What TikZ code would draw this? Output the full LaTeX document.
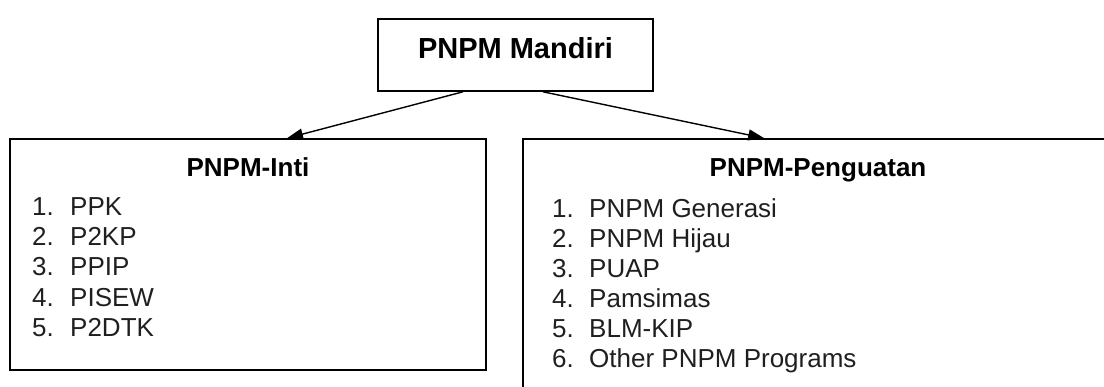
\documentclass[tikz,border=0pt]{standalone}
\usepackage{fontspec}
\setmainfont{Liberation Sans}
\usetikzlibrary{arrows.meta,calc}
\begin{document}
\begin{tikzpicture}[x=1pt,y=-1pt,
  box/.style={draw, line width=1.6pt, inner sep=0pt},
  conn/.style={line width=1.4pt, -{Triangle[length=16pt,width=11pt]}},
  ttl/.style={font=\fontsize{26}{30}\selectfont\bfseries, anchor=base, inner sep=0pt},
  item/.style={font=\fontsize{26}{30}\selectfont, anchor=base west, inner sep=0pt, text=black!88}]
\useasboundingbox (0,0) rectangle (1104,386);
\clip (0,0) rectangle (1104,386);
\node[box, minimum width=275pt, minimum height=72pt] (top) at (515.5,55) {};
\node[font=\fontsize{29}{33}\selectfont\bfseries, anchor=base, inner sep=0pt] (toptext) at (515.5,58) {PNPM Mandiri};
\node[box, minimum width=476pt, minimum height=231pt] (inti) at (248,254.5) {};
\node[box, minimum width=607pt, minimum height=271pt] (peng) at (826.5,274.5) {};
\draw[conn] ($(top.south)+(-52.5,0)$) -- ($(inti.north)+(39,0)$);
\draw[conn] ($(top.south)+(27.5,0)$) -- ($(peng.north west)+(242,0)$);
\node[ttl] (intit) at (248,176) {PNPM-Inti};
\node[ttl] (pengt) at (818,176) {PNPM-Penguatan};
\foreach \t [count=\i] in {PPK,P2KP,PPIP,PISEW,P2DTK} {
  \node[item] (in\i) at (32,{184.6+30.4*\i}) {\i.};
  \node[item] (it\i) at (70,{184.6+30.4*\i}) {\t};
}
\foreach \t [count=\i] in {PNPM Generasi,PNPM Hijau,PUAP,Pamsimas,BLM-KIP,Other PNPM Programs} {
  \node[item] (pn\i) at (552,{187+30*\i}) {\i.};
  \node[item] (pt\i) at (589,{187+30*\i}) {\t};
}
\end{tikzpicture}
\end{document}
